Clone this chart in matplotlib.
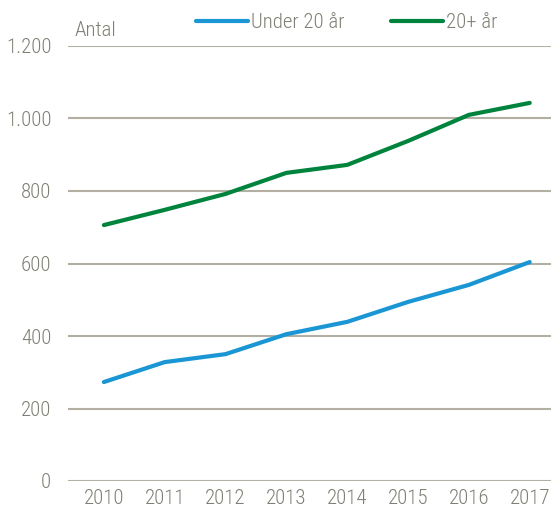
import matplotlib.pyplot as plt

# data
years = [2010, 2011, 2012, 2013, 2014, 2015, 2016, 2017]
under20 = [273, 328, 350, 405, 439, 494, 541, 604]
over20 = [706, 748, 792, 850, 872, 938, 1010, 1043]
yticks = [0, 200, 400, 600, 800, 1000, 1200]
ytick_labels = ['0', '200', '400', '600', '800', '1.000', '1.200']

plt.rcParams['font.family'] = ['Roboto Condensed', 'DejaVu Sans']
plt.rcParams['font.weight'] = 'light'
text_col = '#7f7f74'
grid_col = '#b3afa2'

fig = plt.figure(figsize=(5.51, 5.15), dpi=100)
ax = fig.add_axes([68 / 551, 1 - 481 / 515, 1 - 68 / 551, (481 - 46) / 515])

ax.plot(years, under20, color='#1a96d4', lw=3, solid_capstyle='round', label='Under 20 år')
ax.plot(years, over20, color='#00843d', lw=3, solid_capstyle='round', label='20+ år')

ax.set_ylim(0, 1200)
ax.set_xlim(2009.41, 2017.35)
ax.set_yticks(yticks, ytick_labels)
ax.set_xticks(years, [str(y) for y in years])
ax.grid(axis='y', color=grid_col, lw=1.5)
ax.set_axisbelow(True)
for s in ax.spines.values():
    s.set_visible(False)
ax.tick_params(length=0, labelsize=15, colors=text_col)
ax.tick_params(axis='y', pad=12)
ax.tick_params(axis='x', pad=6)

ax.text(75 / 551, 1 - 30 / 515, 'Antal', transform=fig.transFigure, fontsize=15,
        color=text_col, va='center', ha='left')

fig.legend(loc='center left', bbox_to_anchor=(196 / 551, 1 - 23 / 515), ncol=2,
           frameon=False, fontsize=15, handlelength=2.5, handletextpad=0.15,
           columnspacing=2.2, borderpad=0, borderaxespad=0, labelcolor=text_col)

fig.savefig('out.png', dpi=100)
